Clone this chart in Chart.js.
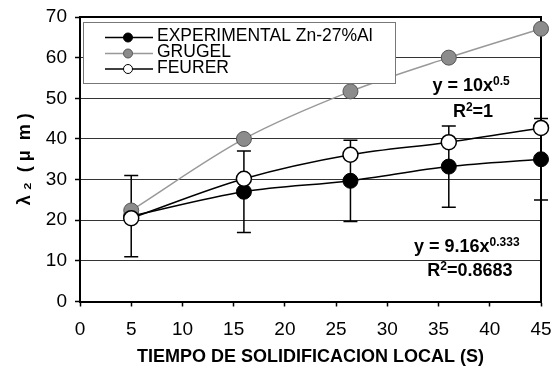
<!DOCTYPE html>
<html>
<head>
<meta charset="utf-8">
<script src="https://cdn.jsdelivr.net/npm/chart.js@4.4.0/dist/chart.umd.min.js"></script>
<style>
  html, body { margin: 0; padding: 0; background: #fff; }
</style>
</head>
<body>
<canvas id="myChart" width="557" height="370"></canvas>
<script>
var solidTime = [5, 16, 26.4, 36, 45]
var experimental = [21, 27, 29.7, 33.2, 35]
var experimentalError = [10, 10, 10, 10, 10]
var grugel = [22.4, 40, 51.7, 60, 67.1]
var feurer = [20.5, 30.2, 36.1, 39.2, 42.7]
var seriesNames = ["EXPERIMENTAL Zn-27%Al", "GRUGEL", "FEURER"]
var xTickValues = [0, 5, 10, 15, 20, 25, 30, 35, 40, 45]
var yTickValues = [0, 10, 20, 30, 40, 50, 60, 70]

var fontFamily = "'Liberation Sans', Arial, sans-serif"
Chart.defaults.font.family = fontFamily
Chart.defaults.color = "#000"

function toPoints(values) {
    return solidTime.map(function (t, i) { return {x: t, y: values[i]} })
}

// text with a superscript part, e.g. "y = 10x" + "0.5"
function drawSupText(ctx, parts, x, y) {
    var cx = x
    for (var i = 0; i < parts.length; i++) {
        var sup = i % 2 == 1
        ctx.font = sup ? "bold 12px " + fontFamily : "bold 18px " + fontFamily
        ctx.fillText(parts[i], cx, sup ? y - 6 : y)
        cx += ctx.measureText(parts[i]).width
    }
}

var framePlugin = {
    id: "frame",
    beforeDatasetsDraw: function (chart) {
        var ctx = chart.ctx
        var a = chart.chartArea
        var xs = chart.scales.x, ys = chart.scales.y
        ctx.save()
        ctx.strokeStyle = "#000"
        ctx.lineWidth = 2
        ctx.beginPath()
        ctx.moveTo(a.left, a.top)
        ctx.lineTo(a.right, a.top)
        ctx.lineTo(a.right, a.bottom)
        ctx.stroke()

        // error bars of the experimental series
        ctx.lineWidth = 1.5
        for (var i = 0; i < solidTime.length; i++) {
            var px = xs.getPixelForValue(solidTime[i])
            var top = ys.getPixelForValue(experimental[i] + experimentalError[i])
            var bot = ys.getPixelForValue(experimental[i] - experimentalError[i])
            ctx.beginPath()
            ctx.moveTo(px, top); ctx.lineTo(px, bot)
            ctx.moveTo(px - 7, top); ctx.lineTo(px + 7, top)
            ctx.moveTo(px - 7, bot); ctx.lineTo(px + 7, bot)
            ctx.stroke()
        }
        ctx.restore()
    },
    afterDatasetsDraw: function (chart) {
        var ctx = chart.ctx
        var a = chart.chartArea
        var xs = chart.scales.x, ys = chart.scales.y
        ctx.save()

        // legend box
        var lx = a.left + 3, ly = a.top + 5
        ctx.fillStyle = "#fff"
        ctx.fillRect(lx, ly, 312, 61)
        ctx.strokeStyle = "#777"
        ctx.lineWidth = 1
        ctx.strokeRect(lx + 0.5, ly + 0.5, 312, 61)
        var rows = [15.5, 31.5, 47]
        chart.data.datasets.forEach(function (ds, i) {
            var ry = ly + rows[i]
            ctx.strokeStyle = ds.borderColor
            ctx.lineWidth = 1.5
            ctx.beginPath()
            ctx.moveTo(lx + 22, ry); ctx.lineTo(lx + 70, ry)
            ctx.stroke()
            ctx.beginPath()
            ctx.arc(lx + 45, ry, 4.5, 0, 2 * Math.PI)
            ctx.fillStyle = ds.pointBackgroundColor
            ctx.fill()
            ctx.strokeStyle = ds.pointBorderColor
            ctx.lineWidth = 1
            ctx.stroke()
            ctx.fillStyle = "#000"
            ctx.font = "17.5px " + fontFamily
            ctx.textBaseline = "middle"
            ctx.fillText(ds.label, lx + 74, ry - 1)
        })

        // fit equations
        ctx.fillStyle = "#000"
        ctx.textBaseline = "alphabetic"
        drawSupText(ctx, ["y = 10x", "0.5"], xs.getPixelForValue(34.4), ys.getPixelForValue(51.8))
        drawSupText(ctx, ["R", "2", "=1"], xs.getPixelForValue(36.4), ys.getPixelForValue(45.4))
        drawSupText(ctx, ["y = 9.16x", "0.333"], xs.getPixelForValue(32.6), ys.getPixelForValue(12.3))
        drawSupText(ctx, ["R", "2", "=0.8683"], xs.getPixelForValue(33.9), ys.getPixelForValue(6.3))
        ctx.restore()
    }
}

var chart = new Chart("myChart", {
    type: "line",
    data: {
        datasets: [{
            label: seriesNames[0],
            data: toPoints(experimental),
            borderColor: "#000",
            backgroundColor: "#000",
            pointBackgroundColor: "#000",
            pointBorderColor: "#000",
            pointBorderWidth: 1,
            pointRadius: 7.5,
            borderWidth: 1.5,
            cubicInterpolationMode: "monotone",
            order: 3,
            clip: false
        }, {
            label: seriesNames[1],
            data: toPoints(grugel),
            borderColor: "#999",
            backgroundColor: "#8c8c8c",
            pointBackgroundColor: "#8c8c8c",
            pointBorderColor: "#555",
            pointBorderWidth: 1,
            pointRadius: 7.5,
            borderWidth: 1.5,
            cubicInterpolationMode: "monotone",
            order: 2,
            clip: false
        }, {
            label: seriesNames[2],
            data: toPoints(feurer),
            borderColor: "#000",
            backgroundColor: "#fff",
            pointBackgroundColor: "#fff",
            pointBorderColor: "#000",
            pointBorderWidth: 1.5,
            pointRadius: 7.5,
            borderWidth: 1.5,
            cubicInterpolationMode: "monotone",
            order: 1,
            clip: false
        }]
    },
    options: {
        responsive: false,
        animation: false,
        devicePixelRatio: 1,
        layout: {padding: {top: 17, right: 16, left: 0, bottom: 0}},
        plugins: {
            legend: {display: false},
            tooltip: {enabled: false}
        },
        scales: {
            x: {
                type: "linear",
                min: 0,
                max: 45,
                afterBuildTicks: function (s) { s.ticks = xTickValues.map(function (v) { return {value: v} }) },
                afterFit: function (s) { s.height = 68.5; s.paddingLeft = 0; s.paddingRight = 0 },
                ticks: {font: {size: 19}, padding: 12, maxRotation: 0, color: "#000"},
                grid: {drawOnChartArea: false, tickColor: "#000", tickLength: 5, tickWidth: 1.5},
                border: {color: "#000", width: 2},
                title: {
                    display: true,
                    text: "TIEMPO DE SOLIDIFICACION LOCAL (S)",
                    font: {size: 18, weight: "bold"},
                    padding: {top: 0, bottom: 2}
                }
            },
            y: {
                min: 0,
                max: 70,
                afterBuildTicks: function (s) { s.ticks = yTickValues.map(function (v) { return {value: v} }) },
                afterFit: function (s) { s.width = 80; s.paddingTop = 0; s.paddingBottom = 0 },
                ticks: {font: {size: 19}, padding: 8, color: "#000"},
                grid: {color: "#333", lineWidth: 1, tickColor: "#000", tickLength: 5, tickWidth: 1.5},
                border: {color: "#000", width: 2},
                title: {
                    display: true,
                    text: "λ ₂  ( μ  m )",
                    font: {size: 18, weight: "bold"},
                    padding: {top: 14, bottom: 0}
                }
            }
        }
    },
    plugins: [framePlugin]
});
</script>
</body>
</html>
